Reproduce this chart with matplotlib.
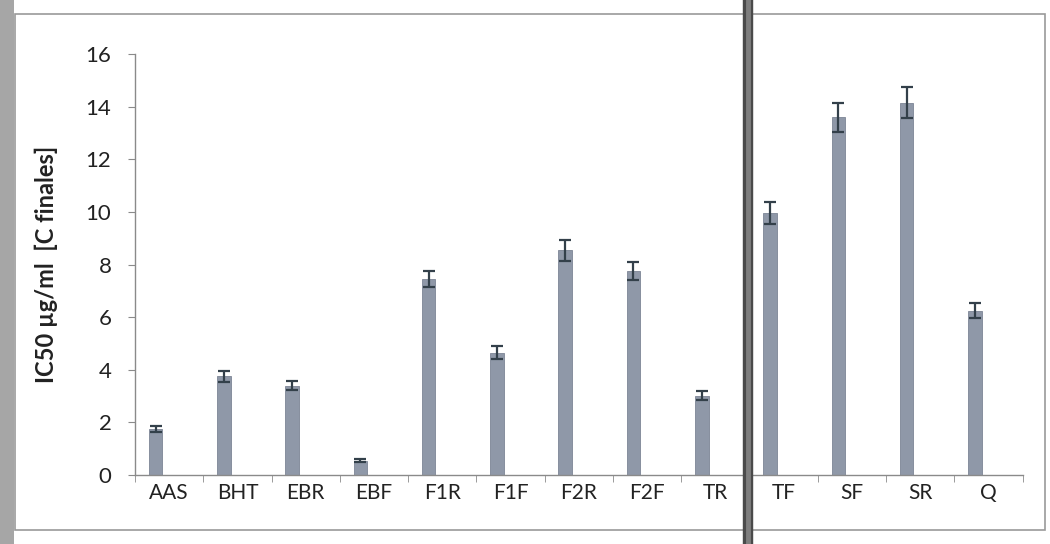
import numpy as np
import matplotlib
matplotlib.use("Agg")
import matplotlib.pyplot as plt
from matplotlib.lines import Line2D
from matplotlib.patches import Rectangle

plt.rcParams['font.family'] = ['Lato', 'DejaVu Sans']

# data
samples = ['AAS', 'BHT', 'EBR', 'EBF', 'F1R', 'F1F', 'F2R', 'F2F', 'TR', 'TF', 'SF', 'SR', 'Q']
ic50 = [1.75, 3.75, 3.4, 0.55, 7.45, 4.65, 8.55, 7.75, 3.02, 9.95, 13.6, 14.15, 6.25]
ic50_err = [0.1, 0.22, 0.18, 0.06, 0.32, 0.25, 0.4, 0.35, 0.16, 0.42, 0.55, 0.6, 0.28]

axis_grey = '#8a8a8a'

fig = plt.figure(figsize=(10.5, 5.44), dpi=100)
ax = fig.add_axes([0.1286, 0.1268, 0.8454, 0.7739])

x = np.arange(len(samples))
ax.bar(x - 0.2, ic50, width=0.2, color='#8f98a8', edgecolor='#7d8595', linewidth=0.6,
       yerr=ic50_err, error_kw=dict(ecolor='#33404a', elinewidth=1.6, capsize=4, capthick=1.6))

ax.set_xlim(-0.5, len(samples) - 0.5)
ax.set_ylim(0, 16)
ax.set_yticks(np.arange(0, 17, 2))
ax.set_xticks(x)
ax.set_xticklabels(samples)
ax.set_xticks(np.arange(-0.5, len(samples), 1), minor=True)
ax.tick_params(axis='x', which='major', length=0, pad=6, labelsize=15, labelcolor='#222222')
ax.tick_params(axis='x', which='minor', length=5, color=axis_grey, direction='out')
ax.tick_params(axis='y', length=5, color=axis_grey, labelsize=16, pad=12, labelcolor='#222222')

for side in ['top', 'right']:
    ax.spines[side].set_visible(False)
for side in ['left', 'bottom']:
    ax.spines[side].set_color(axis_grey)
    ax.spines[side].set_linewidth(1.0)

ax.set_ylabel('IC50 µg/ml  [C finales]', fontsize=17, fontweight='bold', labelpad=20, color='#222222')

# frame of the scanned page
fig.add_artist(Rectangle((15 / 1050, 14 / 544), 1030 / 1050, 516 / 544, transform=fig.transFigure,
                         fill=False, edgecolor='#9a9a9a', linewidth=1.2))
fig.add_artist(Rectangle((0, 0), 14 / 1050, 1, transform=fig.transFigure,
                         facecolor='#a6a6a6', edgecolor='none'))
# dark fold line across the scan
fig.add_artist(Line2D([748 / 1050, 748 / 1050], [0, 1], transform=fig.transFigure,
                      color='#4a4a4a', linewidth=7.5))
fig.add_artist(Line2D([748 / 1050, 748 / 1050], [0, 1], transform=fig.transFigure,
                      color='#7e7e7e', linewidth=3.5))

fig.savefig('out.png', dpi=100)
